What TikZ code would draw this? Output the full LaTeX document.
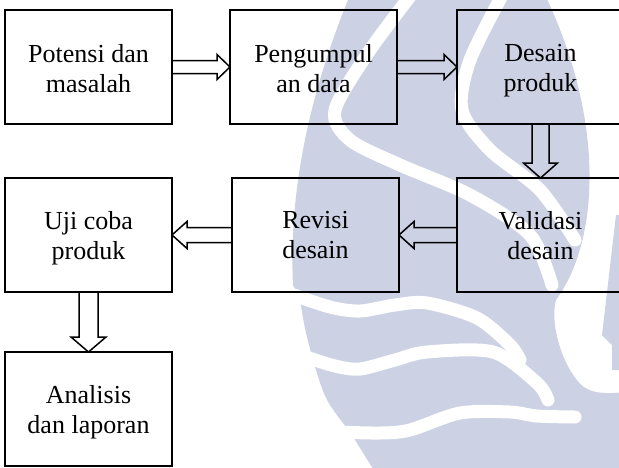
\documentclass[tikz,border=0pt]{standalone}
\usepackage{fontspec}
\setmainfont{Liberation Serif}
\usetikzlibrary{calc}
\definecolor{wm}{RGB}{205,209,228}
\begin{document}
\begin{tikzpicture}[x=1pt,y=-1pt,
  box/.style={draw,line width=1.6pt,minimum width=167pt,minimum height=114pt,inner sep=0pt,outer sep=0pt,anchor=north west},
  lbl/.style={align=center,font=\fontsize{26}{30.5}\selectfont,inner sep=0pt,anchor=north},
  barrow/.style={draw,line width=1.5pt,line join=miter},
  gap/.style={white,line width=13pt,line cap=round}]
\useasboundingbox (0,0) rectangle (619,467);
% watermark
\fill[wm] (350,-5) .. controls (315,80) and (288,180) .. (293,285) -- (300,300)
  .. controls (305,330) .. (313,360) .. controls (325,400) .. (350,432) -- (375,472)
  -- (625,472) -- (625,392) .. controls (600,395) and (585,392) .. (577,380)
  .. controls (560,360) and (550,320) .. (556,300) .. controls (600,240) and (605,120) .. (545,-5) -- cycle;
\fill[wm] (602,335) -- (616,215) -- (625,215) -- (625,370) -- (612,370) -- (612,345) -- cycle;
\draw[gap] plot[smooth] coordinates {(415,-10) (370,50) (335,110) (350,140) (400,165) (470,195) (530,235) (552,285)};
\draw[gap] plot[smooth] coordinates {(505,-10) (470,60) (462,110) (490,150) (540,190) (575,240)};
\draw[gap] plot[smooth] coordinates {(288,293) (330,307) (360,311) (395,305) (427,303) (477,318) (510,345) (520,360)};
\draw[gap] plot[smooth] coordinates {(303,356) (335,366) (360,369) (395,360) (427,352) (493,352) (537,383) (548,400)};
\draw[gap] plot[smooth] coordinates {(338,432) (380,433) (410,430) (460,413) (510,412) (537,416) (575,417)};
% boxes
\node[box] (b1) at (5,10) {};
\node[box] (b2) at (230,10) {};
\node[box] (b3) at (457,10) {};
\node[box] (b4) at (5,178) {};
\node[box] (b5) at (232,178) {};
\node[box] (b6) at (457,178) {};
\node[box] (b7) at (5,352) {};
\node[lbl] (t1) at ($(b1.north)+(0,34)$) {Potensi dan\\masalah};
\node[lbl] (t2) at ($(b2.north)+(0,34)$) {Pengumpul\\an data};
\node[lbl] (t3) at ($(b3.north)+(0,34)$) {Desain\\produk};
\node[lbl] (t4) at ($(b4.north)+(0,33)$) {Uji coba\\produk};
\node[lbl] (t5) at ($(b5.north)+(0,33)$) {Revisi\\desain};
\node[lbl] (t6) at ($(b6.north)+(0,33)$) {Validasi\\desain};
\node[lbl] (t7) at ($(b7.north)+(0,33)$) {Analisis\\dan laporan};
% arrows right
\draw[barrow] ($(b1.east)+(0,-6.5)$) -- ($(b2.west)+(-13,-6.5)$) -- ($(b2.west)+(-13,-12.5)$) -- (b2.west)
  -- ($(b2.west)+(-13,12.5)$) -- ($(b2.west)+(-13,6.5)$) -- ($(b1.east)+(0,6.5)$);
\draw[barrow] ($(b2.east)+(0,-6.5)$) -- ($(b3.west)+(-13,-6.5)$) -- ($(b3.west)+(-13,-12.5)$) -- (b3.west)
  -- ($(b3.west)+(-13,12.5)$) -- ($(b3.west)+(-13,6.5)$) -- ($(b2.east)+(0,6.5)$);
% arrow down b3 -> b6
\draw[barrow] ($(b3.south)+(-8.5,0)$) -- ($(b6.north)+(-8.5,-15)$) -- ($(b6.north)+(-17,-15)$) -- (b6.north)
  -- ($(b6.north)+(17,-15)$) -- ($(b6.north)+(8.5,-15)$) -- ($(b3.south)+(8.5,0)$);
% arrows left
\draw[barrow] ($(b6.west)+(0,-7.5)$) -- ($(b5.east)+(15,-7.5)$) -- ($(b5.east)+(15,-13.5)$) -- (b5.east)
  -- ($(b5.east)+(15,13.5)$) -- ($(b5.east)+(15,7.5)$) -- ($(b6.west)+(0,7.5)$);
\draw[barrow] ($(b5.west)+(0,-7.5)$) -- ($(b4.east)+(15,-7.5)$) -- ($(b4.east)+(15,-13.5)$) -- (b4.east)
  -- ($(b4.east)+(15,13.5)$) -- ($(b4.east)+(15,7.5)$) -- ($(b5.west)+(0,7.5)$);
% arrow down b4 -> b7
\draw[barrow] ($(b4.south)+(-9.5,0)$) -- ($(b7.north)+(-9.5,-15)$) -- ($(b7.north)+(-17.5,-15)$) -- (b7.north)
  -- ($(b7.north)+(17.5,-15)$) -- ($(b7.north)+(9.5,-15)$) -- ($(b4.south)+(9.5,0)$);
\end{tikzpicture}
\end{document}
